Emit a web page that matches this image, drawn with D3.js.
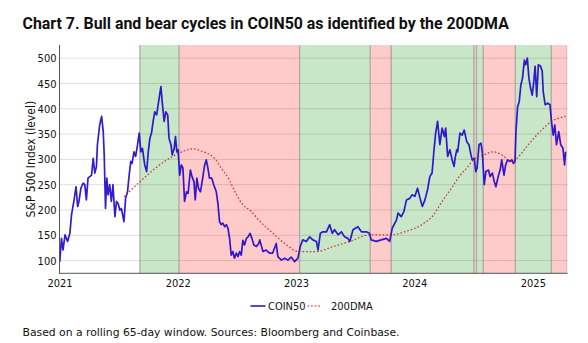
<!DOCTYPE html>
<html><head><meta charset="utf-8">
<script src="https://cdn.jsdelivr.net/npm/d3@7"></script>
<style>
html,body{margin:0;padding:0;background:#fff;}
svg{display:block;}
</style></head>
<body><svg id="chart" width="588" height="343"></svg>
<script>
const title = "Chart 7. Bull and bear cycles in COIN50 as identified by the 200DMA";
const footnote = "Based on a rolling 65-day window. Sources: Bloomberg and Coinbase.";
const yLabel = "S&P 500 Index (level)";
const seriesNames = ["COIN50", "200DMA"];
const yTicks = [100,150,200,250,300,350,400,450,500];
const xTickYears = [2021,2022,2023,2024,2025];

const coinDates = ["2021-01-02","2021-01-07","2021-01-12","2021-01-18","2021-01-26","2021-02-02","2021-02-07","2021-02-15","2021-02-21","2021-02-26","2021-03-02","2021-03-08","2021-03-15","2021-03-20","2021-03-25","2021-03-30","2021-04-10","2021-04-15","2021-04-20","2021-04-25","2021-04-28","2021-05-05","2021-05-11","2021-05-16","2021-05-19","2021-05-23","2021-05-27","2021-05-31","2021-06-05","2021-06-10","2021-06-15","2021-06-21","2021-06-26","2021-07-01","2021-07-06","2021-07-11","2021-07-19","2021-07-24","2021-07-30","2021-08-03","2021-08-09","2021-08-13","2021-08-19","2021-08-24","2021-08-30","2021-09-04","2021-09-09","2021-09-14","2021-09-21","2021-09-27","2021-10-02","2021-10-07","2021-10-12","2021-10-17","2021-10-22","2021-10-28","2021-11-02","2021-11-10","2021-11-14","2021-11-20","2021-11-25","2021-12-01","2021-12-05","2021-12-11","2021-12-15","2021-12-21","2021-12-25","2021-12-29","2022-01-02","2022-01-07","2022-01-12","2022-01-17","2022-01-22","2022-01-28","2022-02-02","2022-02-09","2022-02-14","2022-02-20","2022-02-24","2022-03-01","2022-03-06","2022-03-12","2022-03-19","2022-03-25","2022-03-30","2022-04-04","2022-04-09","2022-04-16","2022-04-22","2022-04-30","2022-05-05","2022-05-10","2022-05-15","2022-05-20","2022-05-26","2022-05-31","2022-06-05","2022-06-10","2022-06-15","2022-06-20","2022-06-25","2022-07-01","2022-07-06","2022-07-11","2022-07-16","2022-07-21","2022-07-26","2022-08-01","2022-08-06","2022-08-12","2022-08-18","2022-08-24","2022-09-01","2022-09-08","2022-09-11","2022-09-21","2022-10-01","2022-10-11","2022-10-21","2022-11-01","2022-11-06","2022-11-17","2022-11-27","2022-12-07","2022-12-17","2022-12-28","2023-01-07","2023-01-14","2023-01-22","2023-02-02","2023-02-12","2023-02-22","2023-03-05","2023-03-10","2023-03-17","2023-03-25","2023-04-05","2023-04-15","2023-04-23","2023-04-30","2023-05-11","2023-05-21","2023-05-31","2023-06-10","2023-06-16","2023-06-26","2023-07-11","2023-07-22","2023-08-06","2023-08-16","2023-08-21","2023-09-06","2023-09-21","2023-10-07","2023-10-17","2023-10-25","2023-11-07","2023-11-12","2023-11-22","2023-11-30","2023-12-08","2023-12-18","2023-12-25","2024-01-03","2024-01-11","2024-01-19","2024-01-26","2024-02-03","2024-02-11","2024-02-18","2024-02-25","2024-03-02","2024-03-07","2024-03-13","2024-03-20","2024-03-27","2024-04-03","2024-04-07","2024-04-13","2024-04-20","2024-04-27","2024-05-03","2024-05-06","2024-05-11","2024-05-14","2024-05-21","2024-05-28","2024-06-03","2024-06-11","2024-06-18","2024-06-24","2024-06-28","2024-07-04","2024-07-09","2024-07-13","2024-07-19","2024-07-25","2024-07-29","2024-08-04","2024-08-09","2024-08-17","2024-08-22","2024-08-29","2024-09-04","2024-09-09","2024-09-16","2024-09-22","2024-09-27","2024-10-04","2024-10-09","2024-10-15","2024-10-22","2024-10-28","2024-11-02","2024-11-07","2024-11-10","2024-11-15","2024-11-20","2024-11-25","2024-11-30","2024-12-06","2024-12-10","2024-12-15","2024-12-20","2024-12-25","2024-12-30","2025-01-04","2025-01-08","2025-01-13","2025-01-18","2025-01-25","2025-01-30","2025-02-02","2025-02-08","2025-02-16","2025-02-23","2025-02-28","2025-03-05","2025-03-10","2025-03-15","2025-03-22","2025-03-28","2025-04-04","2025-04-09","2025-04-12"];
const coinValues = [98,144,121,151,138,154,190,220,246,207,217,243,253,250,220,263,269,302,273,286,329,368,385,355,309,203,263,230,250,217,250,187,217,213,200,203,177,223,236,263,296,292,315,306,329,352,315,322,289,276,315,342,352,375,394,388,410,444,414,375,394,388,342,329,309,322,345,315,319,269,289,283,217,236,233,279,266,256,220,263,243,236,263,289,299,283,263,263,250,236,213,177,171,174,167,171,164,144,111,118,105,115,108,118,111,140,131,144,147,154,144,131,128,134,141,118,121,115,115,134,108,101,105,101,107,98,105,128,141,138,147,141,138,121,154,157,157,171,154,161,151,157,147,144,138,161,167,157,157,154,141,138,141,144,138,164,180,194,187,197,220,223,230,227,243,223,207,220,240,266,273,319,352,375,329,362,345,362,306,319,299,286,302,319,315,352,348,358,335,329,309,299,302,276,283,329,332,315,250,276,279,266,273,256,246,266,279,299,269,289,299,296,299,292,296,355,404,414,447,460,496,487,500,460,441,427,454,484,424,487,484,474,434,408,411,408,372,348,368,329,355,329,322,289,315];

const dmaDates = ["2021-07-19","2021-08-19","2021-09-20","2021-10-21","2021-11-21","2021-12-22","2022-01-22","2022-02-18","2022-03-16","2022-04-11","2022-04-25","2022-05-15","2022-06-07","2022-06-16","2022-07-19","2022-08-16","2022-09-11","2022-10-22","2022-12-03","2023-01-08","2023-03-06","2023-04-26","2023-06-17","2023-08-17","2023-10-23","2023-12-03","2024-01-24","2024-02-29","2024-03-26","2024-04-27","2024-05-21","2024-06-11","2024-07-03","2024-08-04","2024-09-01","2024-09-27","2024-10-28","2024-11-12","2024-12-18","2025-01-28","2025-02-28","2025-04-12"];
const dmaValues = [226,245,264,281,296,308,317,321,316,309,302,283,262,250,212,197,178,154,131,118,118,128,138,151,151,157,171,190,216,245,268,283,300,309,315,309,296,302,329,358,375,385];

const regionStarts = ["2021-09-06","2022-01-05","2023-01-12","2023-08-18","2023-10-22","2024-07-03","2024-07-11","2024-08-01","2024-11-08","2025-02-27"];
const regionEnd = "2025-04-16";
const regionTypes = ["bull","bear","bull","bear","bull","bear","bull","bear","bull","bear"];
const xDomain = ["2021-01-01","2025-04-18"];

const parse = d3.utcParse("%Y-%m-%d");
const svg = d3.select("#chart");
const M = {left:59.5, right:567.5, top:45, bottom:273.3};

const x = d3.scaleUtc().domain(xDomain.map(parse)).range([M.left, M.right]);
const y = d3.scaleLinear().domain([75, 526]).range([M.bottom, M.top]);

const numFont = "'Liberation Sans Narrow','Arial Narrow','DejaVu Sans Condensed',sans-serif";

// regions
const regions = regionStarts.map((s,i)=>({
  start: parse(s),
  end: parse(i < regionStarts.length-1 ? regionStarts[i+1] : regionEnd),
  type: regionTypes[i]
}));
svg.append("g").selectAll("rect").data(regions).join("rect")
  .attr("x", d=>x(d.start)).attr("width", d=>x(d.end)-x(d.start))
  .attr("y", M.top).attr("height", M.bottom-M.top)
  .attr("fill", d=>d.type==="bull" ? "#c8e6c8" : "#ffcaca");

// gridlines
svg.append("g").selectAll("line").data(yTicks).join("line")
  .attr("x1", M.left).attr("x2", M.right)
  .attr("y1", d=>y(d)).attr("y2", d=>y(d))
  .attr("stroke", "#000").attr("stroke-opacity", 0.13).attr("stroke-width", 1);

// region boundary lines
svg.append("g").selectAll("line").data(regions).join("line")
  .attr("x1", d=>x(d.start)).attr("x2", d=>x(d.start))
  .attr("y1", M.top).attr("y2", M.bottom)
  .attr("stroke", "#888").attr("stroke-opacity", 0.6).attr("stroke-width", 1.3);
svg.append("line")
  .attr("x1", x(parse(regionEnd))).attr("x2", x(parse(regionEnd)))
  .attr("y1", M.top).attr("y2", M.bottom)
  .attr("stroke", "#888").attr("stroke-opacity", 0.35).attr("stroke-width", 1);

// lines
const dma = dmaDates.map((d,i)=>({date:parse(d), v:dmaValues[i]}));
const coin = coinDates.map((d,i)=>({date:parse(d), v:coinValues[i]}));
const line = d3.line().x(d=>x(d.date)).y(d=>y(d.v)).curve(d3.curveLinear);
const smooth = d3.line().x(d=>x(d.date)).y(d=>y(d.v)).curve(d3.curveMonotoneX);

svg.append("path").datum(coin).attr("d", line)
  .attr("fill","none").attr("stroke","#2208cc").attr("stroke-opacity",0.92)
  .attr("stroke-width",1.7).attr("stroke-linejoin","round");
svg.append("path").datum(dma).attr("d", smooth)
  .attr("fill","none").attr("stroke","#d01010").attr("stroke-opacity",0.85)
  .attr("stroke-width",1.2).attr("stroke-dasharray","1.6,2");

// axes
const yAxis = d3.axisLeft(y).tickValues(yTicks).tickSize(0).tickPadding(3);
const gy = svg.append("g").attr("transform",`translate(${M.left},0)`).call(yAxis);
gy.select(".domain").remove();
gy.selectAll("text").attr("font-family", numFont).attr("font-size", 11).attr("fill","#111");

const xAxis = d3.axisBottom(x).tickValues(xTickYears.map(yv=>new Date(Date.UTC(yv,0,1))))
  .tickFormat(d3.utcFormat("%Y")).tickSize(0).tickPadding(6);
const gx = svg.append("g").attr("transform",`translate(0,${M.bottom})`).call(xAxis);
gx.select(".domain").remove();
gx.selectAll("text").attr("font-family", numFont).attr("font-size", 11).attr("fill","#111");

svg.append("line").attr("x1",M.left).attr("x2",M.left).attr("y1",M.top).attr("y2",M.bottom+0.5)
  .attr("stroke","#555").attr("stroke-width",1);
svg.append("line").attr("x1",M.left).attr("x2",M.right).attr("y1",M.bottom).attr("y2",M.bottom)
  .attr("stroke","#555").attr("stroke-width",1);

// y label
svg.append("text").attr("transform",`translate(35,${(M.top+M.bottom)/2}) rotate(-90)`)
  .attr("text-anchor","middle").attr("font-family",numFont).attr("font-size",12).attr("fill","#111")
  .text(yLabel);

// title
svg.append("text").attr("x",22.5).attr("y",29).attr("font-family","Roboto, 'Liberation Sans', Arial, sans-serif")
  .attr("font-weight",700).attr("font-size",15.9).attr("fill","#111").text(title);

// legend
const lg = svg.append("g").attr("font-family",numFont).attr("font-size",11).attr("fill","#111");
lg.append("line").attr("x1",250.5).attr("x2",265.5).attr("y1",306).attr("y2",306)
  .attr("stroke","#2208cc").attr("stroke-width",1.5);
lg.append("text").attr("x",268).attr("y",310).text(seriesNames[0]);
lg.append("line").attr("x1",307.5).attr("x2",322).attr("y1",306).attr("y2",306)
  .attr("stroke","#d01010").attr("stroke-width",1.2).attr("stroke-dasharray","1.6,2");
lg.append("text").attr("x",331).attr("y",310).text(seriesNames[1]);

// footnote
svg.append("text").attr("x",22.5).attr("y",336).attr("font-family","'DejaVu Sans', Verdana, sans-serif")
  .attr("font-size",10.8).attr("fill","#111").text(footnote);
</script></body></html>
